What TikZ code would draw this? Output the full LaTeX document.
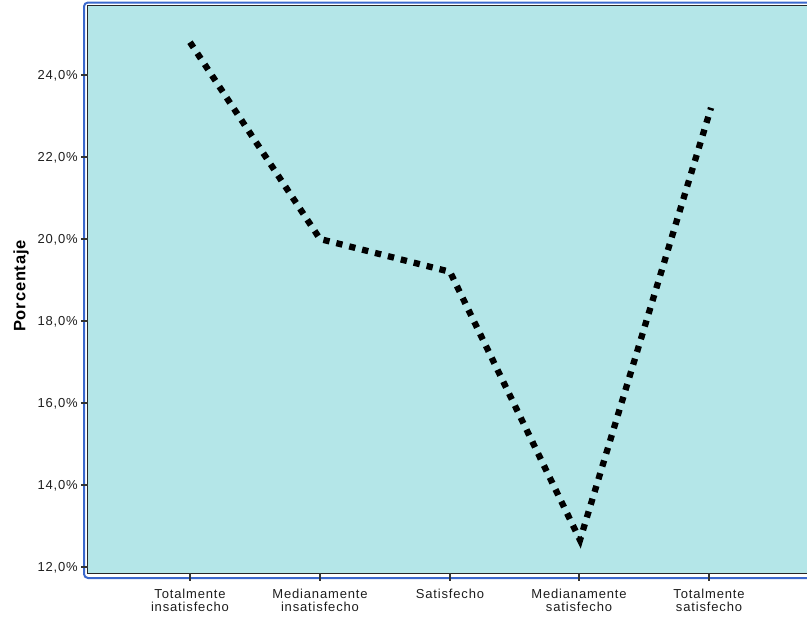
\documentclass[tikz,border=0pt]{standalone}
\usepackage{fontspec}
\setmainfont{Liberation Sans}
\newfontfamily\labfont[LetterSpace=6.5]{Liberation Sans}
\newfontfamily\titfont[LetterSpace=5]{Liberation Sans}
\definecolor{plotbg}{RGB}{180,230,232}
\definecolor{frameblue}{RGB}{58,104,204}
\definecolor{txt}{RGB}{30,30,30}
\tikzset{
  ticklab/.style={font=\labfont\fontsize{13}{14.5}\selectfont, text=txt, inner sep=0pt},
  ylab/.style={ticklab, anchor=base east},
  xlab/.style={ticklab, anchor=north, align=center},
  tickmark/.style={draw=black!80, line width=1.3pt},
  dataline/.style={draw=black, line width=6.3pt, dash pattern=on 6.3pt off 7pt, line cap=butt, line join=miter},
}
\begin{document}
\begin{tikzpicture}[x=1pt,y=-1pt]
\useasboundingbox (0,0) rectangle (807,622);
% plot area
\fill[plotbg] (87.5,5.5) rectangle (807,573.5);
\draw[frameblue, line width=2pt, rounded corners=4pt] (808,2.5) -- (84,2.5) -- (84,578) -- (808,578);
\draw[black!85, line width=1.5pt] (808,5.5) -- (87.5,5.5) -- (87.5,573.5) -- (808,573.5);
% y ticks
\foreach \v/\yy in {24/75,22/157,20/239,18/321,16/403,14/485,12/567}{
  \draw[tickmark] (81,\yy) -- (88,\yy);
  \node[ylab] (yl\v) at (78,\yy+4.7) {\v,0\%};
}
% axis title
\node[font=\titfont\bfseries\fontsize{16.5}{18}\selectfont, rotate=90, inner sep=0pt, text=black] (ytitle) at (21,286) {Porcentaje};
% x ticks and labels
\foreach \i/\xx/\la/\lb in {1/190/Totalmente/insatisfecho, 2/320/Medianamente/insatisfecho, 4/579/Medianamente/satisfecho, 5/709/Totalmente/satisfecho}{
  \draw[tickmark] (\xx,573) -- (\xx,581);
  \node[xlab] (xl\i) at (\xx,589) {\la\\[-1.5pt]\lb};
}
\draw[tickmark] (450,573) -- (450,581);
\node[xlab] (xl3) at (450,589) {Satisfecho};
% data
\coordinate (p1) at (190,42.2);
\coordinate (p2) at (320,239);
\coordinate (p3) at (450,271.8);
\coordinate (p4) at (580,540);
\coordinate (p5) at (711,107.8);
\draw[dataline] (p1) -- (p2) -- (p3) -- (p4) -- (p5);
\end{tikzpicture}
\end{document}
